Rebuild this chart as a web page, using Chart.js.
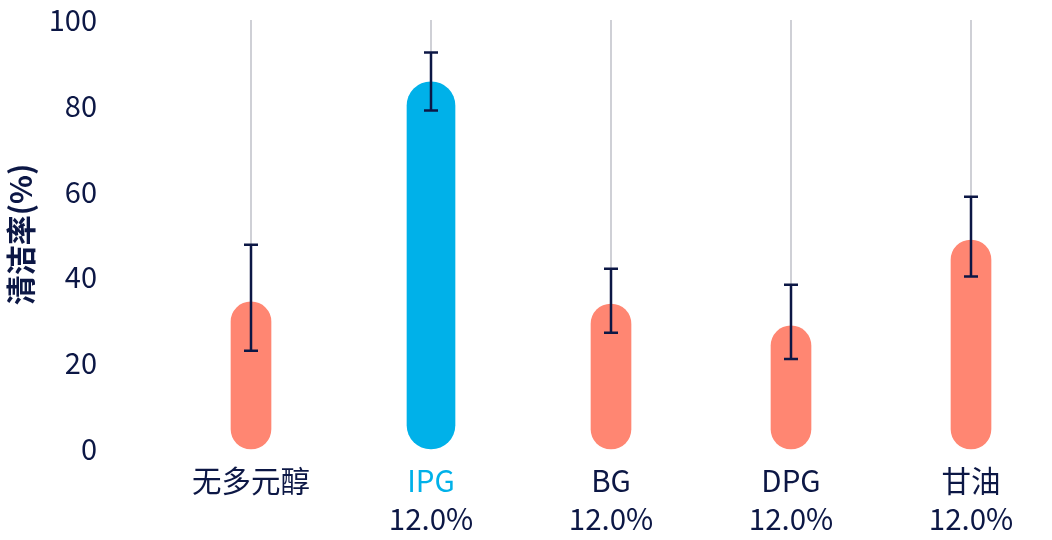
<!DOCTYPE html>
<html>
<head>
<meta charset="utf-8">
<script src="https://cdn.jsdelivr.net/npm/chart.js@4/dist/chart.umd.min.js"></script>
<style>
  html, body { margin: 0; padding: 0; background: #fff; }
  #wrap { width: 1052px; height: 540px; }
</style>
</head>
<body>
<div id="wrap"><canvas id="cleanChart"></canvas></div>
<script>
// --- Data ---
const categories = ['无多元醇', 'IPG', 'BG', 'DPG', '甘油'];
const concentrations = ['', '12.0%', '12.0%', '12.0%', '12.0%'];
const cleanRate = [34.3, 85.6, 33.8, 28.7, 48.7];
const errLow = [22.9, 78.9, 27.1, 21.0, 40.2];
const errHigh = [47.6, 92.4, 42.0, 38.3, 58.8];
const yTicks = [0, 20, 40, 60, 80, 100];
const highlightIndex = 1;

const NAVY = '#0c1745';
const CORAL = '#ff8672';
const BLUE = '#00b1e9';
const FONT = "'Noto Sans CJK SC', 'Noto Sans', sans-serif";

// Error bars drawn on top of the bars
const errorBars = {
    id: 'errorBars',
    afterDatasetsDraw(chart) {
        const { ctx, scales: { x, y } } = chart;
        ctx.save();
        ctx.strokeStyle = NAVY;
        ctx.lineWidth = 2.5;
        categories.forEach((c, i) => {
            const px = x.getPixelForValue(i);
            const top = y.getPixelForValue(errHigh[i]);
            const bot = y.getPixelForValue(errLow[i]);
            ctx.beginPath();
            ctx.moveTo(px, top);
            ctx.lineTo(px, bot);
            ctx.moveTo(px - 7, top);
            ctx.lineTo(px + 7, top);
            ctx.moveTo(px - 7, bot);
            ctx.lineTo(px + 7, bot);
            ctx.stroke();
        });
        ctx.restore();
    }
};

new Chart(document.getElementById('cleanChart'), {
    type: 'bar',
    data: {
        labels: categories,
        datasets: [
            {
                data: cleanRate.map((v, i) => i === highlightIndex ? null : v),
                backgroundColor: CORAL,
                barThickness: 40,
                borderRadius: 20,
                borderSkipped: false,
                clip: false
            },
            {
                data: cleanRate.map((v, i) => i === highlightIndex ? v : null),
                backgroundColor: BLUE,
                barThickness: 48,
                borderRadius: 24,
                borderSkipped: false,
                clip: false
            }
        ]
    },
    options: {
        responsive: true,
        maintainAspectRatio: false,
        animation: false,
        layout: { padding: { top: 20, right: 81, left: 3, bottom: 0 } },
        datasets: { bar: { grouped: false, skipNull: true } },
        scales: {
            x: {
                offset: false,
                grid: { offset: false, color: '#cfd0d6', lineWidth: 2, drawTicks: false },
                border: { display: false },
                ticks: {
                    padding: 14,
                    font: { family: FONT, size: 29.5 },
                    color: ctx => ctx.index === highlightIndex ? BLUE : NAVY
                },
                afterFit: scale => { scale.height = 52; }
            },
            x2: {
                type: 'category',
                position: 'bottom',
                labels: concentrations,
                offset: false,
                grid: { display: false, drawTicks: false },
                border: { display: false },
                ticks: {
                    padding: 0,
                    font: { family: FONT, size: 29.5 },
                    color: NAVY
                },
                afterFit: scale => { scale.height = 39; }
            },
            y: {
                min: 0,
                max: 100,
                afterBuildTicks: scale => { scale.ticks = yTicks.map(v => ({ value: v })); },
                grid: { display: false, drawTicks: false },
                border: { display: false },
                ticks: {
                    padding: 154,
                    font: { family: FONT, size: 29 },
                    color: NAVY
                },
                title: {
                    display: true,
                    text: '清洁率(%)',
                    color: NAVY,
                    padding: 0,
                    font: { family: FONT, size: 30, weight: 'bold' }
                },
                afterFit: scale => {
                    scale.width = 248;
                    // big tick padding would otherwise reserve space above and below
                    scale.paddingTop = 0;
                    scale.paddingBottom = 0;
                }
            }
        },
        plugins: {
            legend: { display: false },
            tooltip: { enabled: false }
        }
    },
    plugins: [errorBars]
});
</script>
</body>
</html>
